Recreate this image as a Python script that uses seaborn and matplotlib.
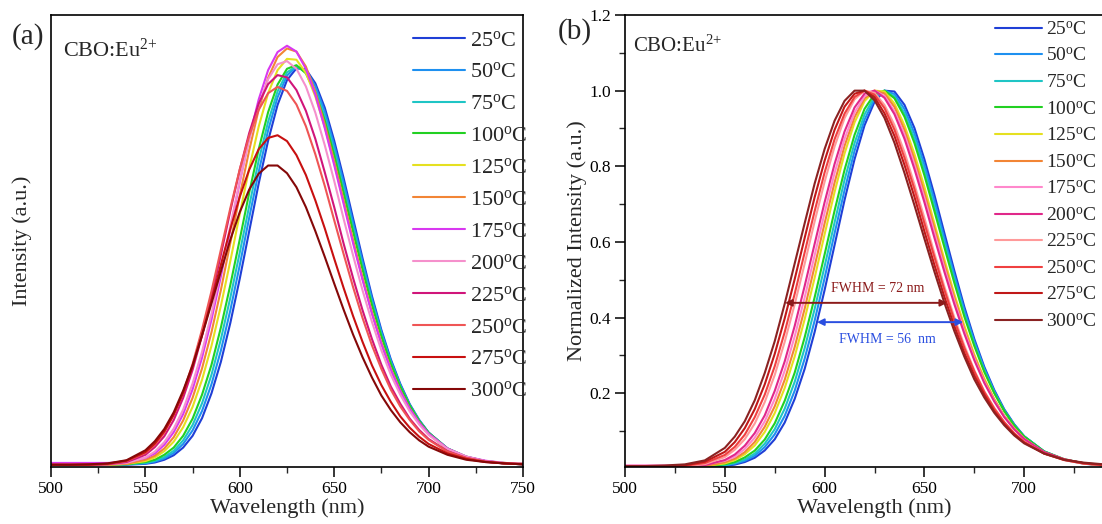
import numpy as np
import pandas as pd
import matplotlib
matplotlib.use("Agg")
import matplotlib.pyplot as plt
from matplotlib.ticker import MultipleLocator
import seaborn as sns

# ---------------- data ----------------
wavelength = [500, 510, 520, 530, 540, 550, 555, 560, 565, 570, 575, 580, 585, 590, 595,
              600, 605, 610, 615, 620, 625, 630, 635, 640, 645, 650, 655, 660, 665, 670,
              675, 680, 685, 690, 695, 700, 710, 720, 730, 740, 750]

temperatures = [25, 50, 75, 100, 125, 150, 175, 200, 225, 250, 275, 300]

i25 = [.005, .005, .005, .005, .005, .007, .010, .016, .026, .043, .069, .108, .163, .233, .319,
       .417, .522, .627, .722, .801, .856, .882, .880, .849, .795, .722, .639, .550, .462, .378,
       .303, .238, .184, .139, .104, .076, .040, .021, .012, .008, .006]
i50 = [.005, .005, .005, .005, .006, .008, .012, .019, .031, .051, .081, .124, .183, .258, .347,
       .447, .552, .653, .745, .818, .866, .886, .878, .843, .786, .712, .629, .540, .454, .372,
       .299, .235, .182, .138, .104, .076, .041, .022, .013, .008, .006]
i75 = [.005, .005, .005, .005, .006, .009, .014, .022, .036, .059, .093, .141, .204, .283, .375,
       .475, .578, .678, .764, .831, .873, .887, .873, .834, .775, .700, .615, .529, .444, .364,
       .293, .231, .179, .136, .102, .076, .041, .022, .013, .008, .006]
i100 = [.005, .005, .005, .005, .006, .011, .016, .027, .043, .069, .107, .160, .226, .309, .403,
        .504, .607, .703, .785, .846, .881, .889, .871, .828, .766, .690, .606, .521, .437, .358,
        .289, .228, .178, .136, .102, .076, .041, .023, .013, .009, .007]
i125 = [.005, .005, .005, .005, .007, .013, .021, .035, .056, .088, .133, .193, .268, .357, .456,
        .560, .661, .753, .827, .878, .903, .901, .872, .820, .752, .673, .586, .500, .417, .342,
        .273, .216, .167, .127, .097, .072, .039, .022, .013, .008, .006]
i150 = [.005, .005, .005, .005, .007, .016, .025, .041, .066, .103, .153, .218, .298, .392, .496,
        .601, .701, .791, .861, .907, .926, .919, .886, .830, .758, .676, .590, .502, .419, .342,
        .275, .217, .169, .129, .098, .073, .040, .022, .013, .009, .007]
i175 = [.009, .009, .009, .009, .011, .020, .030, .049, .077, .117, .172, .242, .326, .422, .526,
        .631, .729, .813, .878, .918, .932, .919, .881, .824, .750, .668, .582, .495, .414, .339,
        .272, .215, .168, .129, .098, .074, .041, .023, .014, .009, .007]
i200 = [.005, .005, .005, .006, .009, .021, .034, .055, .085, .127, .185, .255, .339, .434, .534,
        .633, .724, .801, .858, .891, .898, .881, .842, .784, .712, .633, .549, .468, .391, .321,
        .258, .204, .160, .123, .094, .071, .040, .023, .013, .009, .007]
i225 = [.005, .005, .005, .006, .011, .027, .044, .068, .104, .153, .215, .291, .377, .470, .567,
        .658, .739, .804, .847, .867, .862, .834, .788, .726, .652, .575, .494, .418, .347, .283,
        .226, .178, .140, .107, .082, .062, .035, .020, .012, .008, .006]
i250 = [.005, .005, .005, .007, .013, .031, .049, .076, .115, .165, .228, .304, .389, .481, .573,
        .659, .733, .790, .827, .841, .832, .802, .754, .692, .622, .546, .471, .398, .330, .269,
        .217, .171, .134, .104, .079, .060, .034, .020, .012, .008, .007]
i275 = [.005, .005, .005, .007, .014, .033, .052, .079, .116, .164, .223, .292, .368, .448, .527,
        .598, .658, .703, .728, .734, .721, .690, .646, .590, .528, .461, .396, .334, .277, .225,
        .181, .144, .112, .087, .067, .051, .030, .018, .011, .008, .006]
i300 = [.005, .005, .006, .008, .015, .037, .057, .084, .121, .169, .225, .291, .362, .433, .503,
        .564, .614, .649, .667, .667, .650, .619, .575, .522, .465, .406, .348, .293, .243, .198,
        .158, .126, .099, .077, .059, .045, .027, .016, .011, .008, .006]

colors_a = ["#1f3fd6", "#1e90f0", "#1fc5c5", "#22d022", "#e5e020", "#f28535",
            "#d838f0", "#f590cc", "#d0157a", "#ef5555", "#c81010", "#850808"]
colors_b = ["#1f3fd6", "#1e90f0", "#1fc5c5", "#22d022", "#e5e020", "#f28535",
            "#ff88cc", "#e0288a", "#ff9a9a", "#f04040", "#c01818", "#8a2222"]

x_ticks_a = [500, 550, 600, 650, 700, 750]
x_ticks_b = [500, 550, 600, 650, 700]
y_ticks_b = [0.2, 0.4, 0.6, 0.8, 1.0, 1.2]

fwhm_texts = ["FWHM = 72 nm", "FWHM = 56  nm"]
fwhm_red = [580.2, 661.4, 0.439]     # left, right, level
fwhm_blue = [596.2, 669.4, 0.388]

# ---------------- style ----------------
sns.set_theme(style="ticks")
plt.rcParams["font.family"] = ["Liberation Serif", "DejaVu Serif"]
plt.rcParams["mathtext.fontset"] = "custom"
plt.rcParams["mathtext.rm"] = "Liberation Serif"
plt.rcParams["mathtext.it"] = "Liberation Serif:italic"
plt.rcParams["mathtext.bf"] = "Liberation Serif:bold"
plt.rcParams["axes.edgecolor"] = "black"
plt.rcParams["axes.linewidth"] = 1.2
plt.rcParams["lines.solid_joinstyle"] = "round"

series = [i25, i50, i75, i100, i125, i150, i175, i200, i225, i250, i275, i300]
labels = [f"{t}$^{{\\mathrm{{o}}}}$C" for t in temperatures]

rows = []
for lab, vals in zip(labels, series):
    vmax = max(vals)
    for w, v in zip(wavelength, vals):
        rows.append({"wavelength": w, "intensity": v, "normalized": v / vmax, "label": lab})
df = pd.DataFrame(rows)

W, H = 1102, 524
fig = plt.figure(figsize=(W / 100, H / 100), dpi=100)
ax1 = fig.add_axes([51 / W, 57 / H, 472 / W, 452 / H])
ax2 = fig.add_axes([625 / W, 57 / H, 499 / W, 452 / H])

sns.lineplot(data=df, x="wavelength", y="intensity", hue="label", hue_order=labels,
             palette=dict(zip(labels, colors_a)), estimator=None, linewidth=1.5,
             legend=False, ax=ax1)
sns.lineplot(data=df, x="wavelength", y="normalized", hue="label", hue_order=labels,
             palette=dict(zip(labels, colors_b)), estimator=None, linewidth=1.5,
             legend=False, ax=ax2)

# ---------------- panel (a) ----------------
ax1.set_xlim(500, 750)
ax1.set_ylim(0, 1.0)
ax1.set_xticks(x_ticks_a)
ax1.xaxis.set_minor_locator(MultipleLocator(25))
ax1.set_yticks([])
ax1.tick_params(axis="x", which="major", direction="out", length=7, width=1.1,
                labelsize=12.5, pad=3, colors="black")
ax1.tick_params(axis="x", which="minor", direction="out", length=4, width=1.0)
ax1.set_xlabel("Wavelength (nm)", fontsize=16, labelpad=1)
ax1.set_ylabel("Intensity (a.u.)", fontsize=16, labelpad=14)
for s in ax1.spines.values():
    s.set_visible(True)
    s.set_linewidth(1.2)

lines_a = ax1.get_lines()[:len(labels)]
ax1.legend(lines_a, labels, loc="upper left", bbox_to_anchor=(413 / W, 1 - 30 / H),
           bbox_transform=fig.transFigure, frameon=False, fontsize=16,
           handlelength=2.35, handletextpad=0.22, labelspacing=0.51,
           borderpad=0, borderaxespad=0)

# ---------------- panel (b) ----------------
ax2.set_xlim(500, 750)
ax2.set_ylim(0.005, 1.2)
ax2.set_xticks(x_ticks_b)
ax2.xaxis.set_minor_locator(MultipleLocator(25))
ax2.set_yticks(y_ticks_b)
ax2.yaxis.set_minor_locator(MultipleLocator(0.1))
ax2.set_yticklabels([f"{v:.1f}" for v in y_ticks_b])
ax2.tick_params(axis="both", which="major", direction="out", length=7, width=1.1,
                labelsize=12.5, pad=3, colors="black")
ax2.tick_params(axis="both", which="minor", direction="out", length=4, width=1.0)
ax2.set_xlabel("Wavelength (nm)", fontsize=16, labelpad=1)
ax2.set_ylabel("Normalized Intensity (a.u.)", fontsize=16, labelpad=2)
for s in ax2.spines.values():
    s.set_visible(True)
    s.set_linewidth(1.2)

lines_b = ax2.get_lines()[:len(labels)]
ax2.legend(lines_b, labels, loc="upper left", bbox_to_anchor=(995 / W, 1 - 21 / H),
           bbox_transform=fig.transFigure, frameon=False, fontsize=14,
           handlelength=2.4, handletextpad=0.2, labelspacing=0.46,
           borderpad=0, borderaxespad=0)

red_c, blue_c = "#8b1a1a", "#2a4ee0"
ax2.annotate("", xy=(fwhm_red[0], fwhm_red[2]), xytext=(fwhm_red[1], fwhm_red[2]),
             arrowprops=dict(arrowstyle="<|-|>", color=red_c, lw=1.4,
                             mutation_scale=10, shrinkA=0, shrinkB=0))
ax2.annotate("", xy=(fwhm_blue[0], fwhm_blue[2]), xytext=(fwhm_blue[1], fwhm_blue[2]),
             arrowprops=dict(arrowstyle="<|-|>", color=blue_c, lw=1.4,
                             mutation_scale=10, shrinkA=0, shrinkB=0))
ax2.text(626.8, 0.476, fwhm_texts[0], color=red_c, fontsize=10, ha="center", va="center")
ax2.text(631.3, 0.341, fwhm_texts[1], color=blue_c, fontsize=10, ha="center", va="center")

# ---------------- panel labels ----------------
fig.text(28 / W, 1 - 37 / H, "(a)", fontsize=21, ha="center", va="center")
fig.text(575 / W, 1 - 32 / H, "(b)", fontsize=21, ha="center", va="center")
fig.text(63 / W, 1 - 57 / H, "CBO:Eu$^{\\text{2+}}$", fontsize=16, ha="left", va="baseline")
fig.text(633 / W, 1 - 52 / H, "CBO:Eu$^{\\text{2+}}$", fontsize=15, ha="left", va="baseline")

fig.savefig("out.png", dpi=100)
